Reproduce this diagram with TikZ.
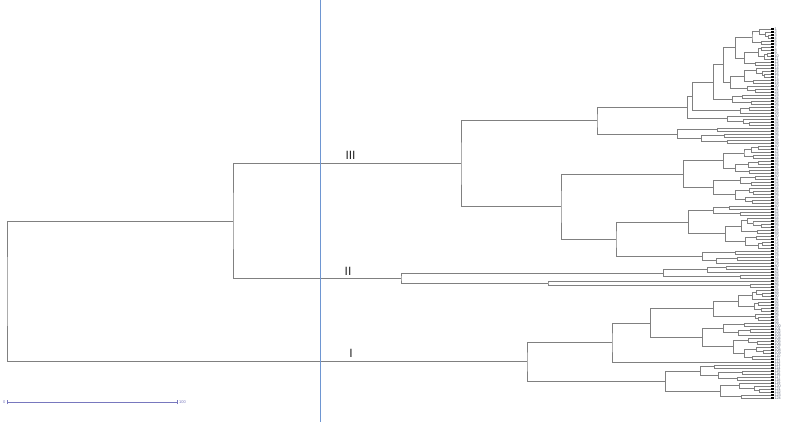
\documentclass[tikz,border=0pt]{standalone}
\usepackage{fontspec}
\setmainfont{Liberation Sans}
\definecolor{brgray}{RGB}{128,128,128}
\definecolor{guide}{RGB}{110,150,210}
\definecolor{barcol}{RGB}{120,120,190}
\definecolor{leaftxt}{RGB}{95,105,125}
\tikzset{
  br/.style={draw=brgray,line width=0.9pt},
  leafmark/.style={fill=black},
  leaflabel/.style={anchor=west,inner sep=0pt,font=\fontsize{3.8}{3.8}\selectfont,text=leaftxt},
  clabel/.style={font=\fontsize{12}{12}\selectfont,inner sep=0pt,text=black!85},
  guideline/.style={draw=guide,line width=0.9pt},
  scalebar/.style={draw=barcol,line width=0.9pt},
  scalelabel/.style={font=\fontsize{4}{4}\selectfont,inner sep=0pt,text=barcol}
}
\newcommand\leafnode[2]{%
  \pgfmathsetmacro\yy{29+3*(#2-1)}%
  \coordinate (#1) at (771,\yy);%
  \expandafter\xdef\csname Y@#1\endcsname{\yy}%
  \fill[leafmark] (771,\yy-1.1) rectangle (773.5,\yy+1.1);%
  \node[leaflabel] (lab#2) at (774.3,\yy) {#2};%
}
\newcommand\subtree[4]{%
 \ifnum#3=1\relax
   \leafnode{#1}{#2}%
 \else
  \begingroup
   \pgfmathtruncatemacro\na{max(1,min(#3-1,round(#3*(0.3+0.4*frac(#2*0.618+#3*0.371)))))}%
   \pgfmathtruncatemacro\nb{#3-\na}%
   \pgfmathtruncatemacro\ib{#2+\na}%
   \pgfmathsetmacro\xa{771-(771-#4)*(0.45+0.35*frac(#2*0.7548+#3*0.113))}%
   \pgfmathsetmacro\xb{771-(771-#4)*(0.45+0.35*frac(\ib*0.5698+#3*0.217))}%
   \edef\tmpcall{\noexpand\subtree{#1a}{#2}{\na}{\xa}}\tmpcall
   \edef\tmpcall{\noexpand\subtree{#1b}{\ib}{\nb}{\xb}}\tmpcall
   \pgfmathsetmacro\ym{(\csname Y@#1a\endcsname+\csname Y@#1b\endcsname)/2}%
   \coordinate (#1) at (#4,\ym);%
   \expandafter\xdef\csname Y@#1\endcsname{\ym}%
   \draw[br] (#1a) -| (#1) |- (#1b);%
  \endgroup
 \fi}
\newcommand\mergenode[4]{%
  \pgfmathsetmacro\ym{(\csname Y@#2\endcsname+\csname Y@#3\endcsname)/2}%
  \coordinate (#1) at (#4,\ym);%
  \expandafter\xdef\csname Y@#1\endcsname{\ym}%
  \draw[br] (#2) -| (#1) |- (#3);%
}
\begin{document}
\begin{tikzpicture}[x=1pt,y=-1pt]
\useasboundingbox (0,0) rectangle (789,422);
\fill[white] (0,0) rectangle (789,422);
% cluster III
\subtree{t1}{1}{13}{735}
\subtree{t2}{14}{9}{730}
\mergenode{mA}{t1}{t2}{723}
\subtree{t3}{23}{4}{732}
\mergenode{mB}{mA}{t3}{713}
\subtree{t4}{27}{3}{740}
\mergenode{mC}{mB}{t4}{692}
\subtree{t5}{30}{4}{727}
\mergenode{mD}{mC}{t5}{687}
\subtree{t6}{34}{6}{677}
\mergenode{IIIa}{mD}{t6}{597}
\subtree{t7}{40}{10}{723}
\subtree{t8}{50}{4}{740}
\subtree{t9}{54}{6}{735}
\mergenode{mE}{t8}{t9}{713}
\mergenode{mF}{t7}{mE}{683}
\subtree{t10}{60}{4}{713}
\subtree{t11}{64}{11}{725}
\mergenode{mG}{t10}{t11}{688}
\subtree{t12}{75}{5}{702}
\mergenode{mH}{mG}{t12}{616}
\mergenode{IIIb}{mF}{mH}{561}
\mergenode{III}{IIIa}{IIIb}{461}
% cluster II
\subtree{t13}{80}{3}{707}
\subtree{t14}{83}{2}{740}
\mergenode{mJ}{t13}{t14}{663}
\subtree{t15}{85}{1}{771}
\subtree{t16}{86}{2}{750}
\mergenode{mK}{t15}{t16}{548}
\mergenode{II}{mJ}{mK}{401}
\mergenode{A}{III}{II}{233}
% cluster I
\subtree{t17}{88}{8}{738}
\subtree{t18}{96}{3}{755}
\mergenode{mL}{t17}{t18}{713}
\subtree{t19}{99}{5}{723}
\subtree{t20}{104}{8}{733}
\mergenode{mM}{t19}{t20}{702}
\mergenode{mN}{mL}{mM}{650}
\subtree{t21}{112}{1}{771}
\mergenode{mO}{mN}{t21}{612}
\subtree{t22}{113}{6}{700}
\subtree{t23}{119}{6}{720}
\mergenode{mP}{t22}{t23}{665}
\mergenode{I}{mO}{mP}{527}
\mergenode{root}{A}{I}{7}
% cluster labels
\node[clabel] (labIII) at (350.5,155) {III};
\node[clabel] (labII) at (348,271.5) {II};
\node[clabel] (labI) at (351,353) {I};
% guide line
\coordinate (g0) at (320.5,0);
\coordinate (g1) at (320.5,422);
\draw[guideline] (g0) -- (g1);
% scale bar
\coordinate (s0) at (7,402);
\coordinate (s1) at (177,402);
\draw[scalebar] (s0) -- (s1);
\draw[scalebar] ([yshift=-2pt]s0) -- ([yshift=2pt]s0);
\draw[scalebar] ([yshift=-2pt]s1) -- ([yshift=2pt]s1);
\node[scalelabel,anchor=east] (sl0) at (5.5,402) {0};
\node[scalelabel,anchor=west] (sl1) at (179,402) {100};
\end{tikzpicture}
\end{document}
